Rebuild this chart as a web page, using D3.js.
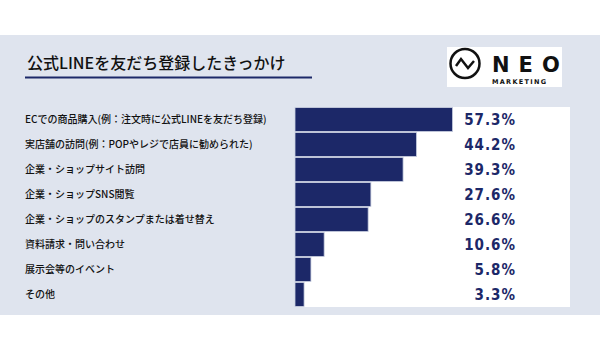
<!DOCTYPE html>
<html>
<head>
<meta charset="utf-8">
<script src="https://cdn.jsdelivr.net/npm/d3@7"></script>
<style>
  body { margin: 0; background: #fff; }
  svg { display: block; }
</style>
</head>
<body>
<div id="content"></div>
<script>
var title = "公式LINEを友だち登録したきっかけ";
var categories = [
    "ECでの商品購入(例：注文時に公式LINEを友だち登録)",
    "実店舗の訪問(例：POPやレジで店員に勧められた)",
    "企業・ショップサイト訪問",
    "企業・ショップSNS閲覧",
    "企業・ショップのスタンプまたは着せ替え",
    "資料請求・問い合わせ",
    "展示会等のイベント",
    "その他"
];
var values = [57.3, 44.2, 39.3, 27.6, 26.6, 10.6, 5.8, 3.3];

var svg = d3.select('#content')
    .append('svg')
    .attr('width', 600).attr('height', 350);

var navy = "#1c2868";

// background band
svg.append("rect")
    .attr("x", 0).attr("y", 35)
    .attr("width", 600).attr("height", 280)
    .attr("fill", "#dfe4ee");

// title + underline
svg.append("text")
    .attr("x", 27).attr("y", 69)
    .attr("font-family", "'Noto Sans CJK JP', sans-serif")
    .attr("font-size", 16)
    .attr("font-weight", 500)
    .attr("fill", "#111")
    .text(title);
svg.append("rect")
    .attr("x", 25).attr("y", 76.5)
    .attr("width", 287).attr("height", 2)
    .attr("fill", navy);

// logo
var logo = svg.append("g");
logo.append("rect")
    .attr("x", 447).attr("y", 47)
    .attr("width", 115).attr("height", 40)
    .attr("fill", "#fff");
logo.append("circle")
    .attr("cx", 465).attr("cy", 63.5).attr("r", 14.5)
    .attr("fill", "none").attr("stroke", "#111").attr("stroke-width", 2.5);
logo.append("path")
    .attr("d", "M456,66 L461,59 L468,68 L474,61")
    .attr("fill", "none").attr("stroke", "#111").attr("stroke-width", 2.5)
    .attr("stroke-linejoin", "miter");
logo.append("text")
    .attr("x", 492).attr("y", 72)
    .attr("font-family", "'DejaVu Sans', sans-serif")
    .attr("font-size", 21).attr("font-weight", "bold")
    .attr("letter-spacing", 9)
    .attr("fill", "#111")
    .text("NEO");
logo.append("text")
    .attr("x", 492).attr("y", 83.5)
    .attr("font-family", "'DejaVu Sans', sans-serif")
    .attr("font-size", 6.5).attr("font-weight", "bold")
    .attr("letter-spacing", 1.3)
    .attr("fill", "#111")
    .text("MARKETING");

// chart
var x = d3.scaleLinear().domain([0, 100]).range([295, 570]);
var y = d3.scaleBand().domain(categories).range([107, 307]).padding(0);

svg.append("rect")
    .attr("x", x(0)).attr("y", y.range()[0])
    .attr("width", x(100) - x(0)).attr("height", y.range()[1] - y.range()[0])
    .attr("fill", "#fff");

svg.selectAll(".bar")
    .data(values)
    .enter().append("rect")
    .attr("class", "bar")
    .attr("x", x(0))
    .attr("y", function(d, i) { return y(categories[i]) + 0.5; })
    .attr("width", function(d) { return x(d) - x(0); })
    .attr("height", y.bandwidth() - 1)
    .attr("fill", navy)
    .attr("stroke", "#c9cfe0")
    .attr("stroke-width", 0.8);

svg.selectAll(".cat")
    .data(categories)
    .enter().append("text")
    .attr("class", "cat")
    .attr("x", 25)
    .attr("y", function(d) { return y(d) + y.bandwidth() / 2; })
    .attr("dy", "0.35em")
    .attr("font-family", "'Noto Sans CJK JP', sans-serif")
    .attr("font-size", 10)
    .attr("font-weight", 500)
    .attr("fill", "#111")
    .text(function(d) { return d; });

svg.selectAll(".val")
    .data(values)
    .enter().append("text")
    .attr("class", "val")
    .attr("x", 516)
    .attr("y", function(d, i) { return y(categories[i]) + y.bandwidth() / 2; })
    .attr("dy", "0.36em")
    .attr("text-anchor", "end")
    .attr("font-family", "'DejaVu Sans Condensed', 'Liberation Sans Narrow', sans-serif")
    .attr("font-stretch", "condensed")
    .attr("font-weight", "bold")
    .attr("font-size", 15)
    .attr("letter-spacing", 1)
    .attr("fill", navy)
    .text(function(d) { return d.toFixed(1) + "%"; });
</script>
</body>
</html>
